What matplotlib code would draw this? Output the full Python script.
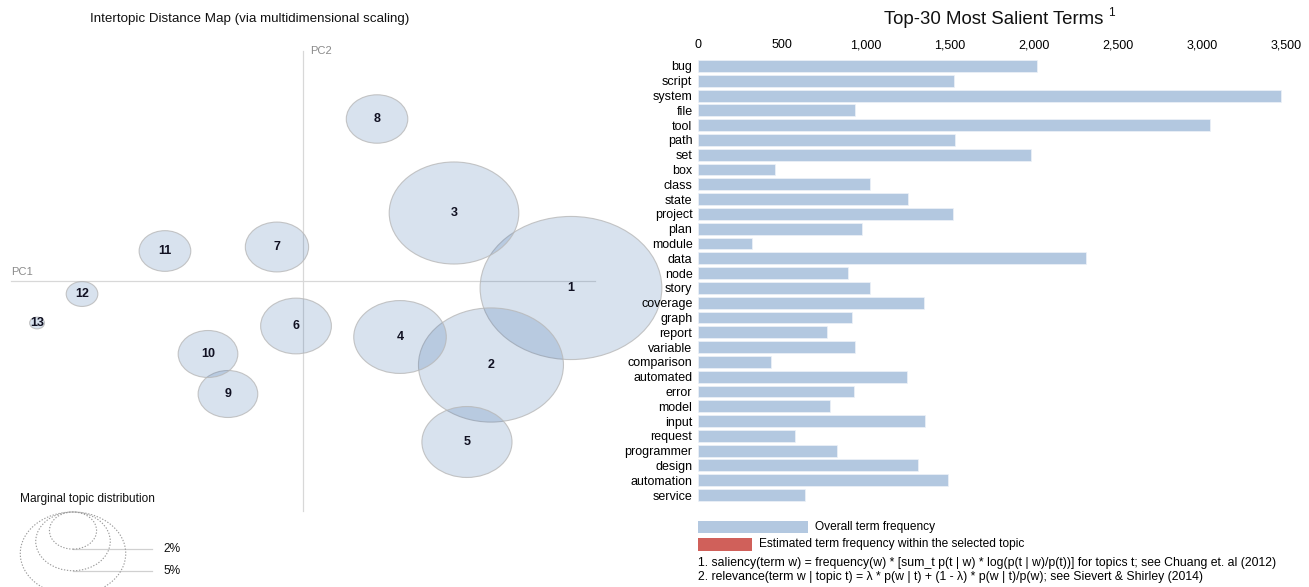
import numpy as np
import matplotlib
matplotlib.use("Agg")
import matplotlib.pyplot as plt
from matplotlib.patches import Circle, Rectangle

plt.rcParams['font.family'] = ['Liberation Sans', 'DejaVu Sans']

# Topic centres on the first two principal coordinates and their marginal share (%)
topic_ids = list(range(1, 14))
pc1 = [0.2110, 0.1480, 0.1189, 0.0764, 0.1291, -0.0055, -0.0205,
       0.0583, -0.0591, -0.0748, -0.1087, -0.1740, -0.2094]
pc2 = [-0.007, -0.084, 0.068, -0.056, -0.161, -0.045, 0.034,
       0.162, -0.113, -0.073, 0.030, -0.013, -0.042]
topic_share = [29.7, 18.9, 15.1, 7.7, 7.3, 4.5, 3.6, 3.4, 3.2, 3.2, 2.4, 0.9, 0.2]
legend_shares = [2, 5, 10]

# Most salient terms and their overall corpus frequency
terms = ["bug", "script", "system", "file", "tool", "path", "set", "box", "class",
         "state", "project", "plan", "module", "data", "node", "story", "coverage",
         "graph", "report", "variable", "comparison", "automated", "error", "model",
         "input", "request", "programmer", "design", "automation", "service"]
term_freq = [2020, 1525, 3470, 935, 3050, 1530, 1980, 460, 1025,
             1250, 1520, 977, 320, 2310, 895, 1025, 1345,
             918, 770, 935, 435, 1245, 930, 787,
             1352, 578, 828, 1311, 1490, 638]
freq_ticks = [0, 500, 1000, 1500, 2000, 2500, 3000, 3500]

W, H = 1309, 587
fig = plt.figure(figsize=(W / 100, H / 100), dpi=100)


def fx(px):
    return px / W


def fy(py):
    return 1 - py / H


# ---- Intertopic distance map ----
ax = fig.add_axes([0, 0, 680 / W, 1])
ax.set_xlim(-303 / 1270, 377 / 1270)
ax.set_ylim(-306 / 1000, 281 / 1000)
ax.axis("off")

radius_scale = 0.01313
axis_extent = 0.23
ax.plot([-axis_extent, axis_extent], [0, 0], color="#d8d8d8", lw=0.9, zorder=1)
ax.plot([0, 0], [-axis_extent, axis_extent], color="#d8d8d8", lw=0.9, zorder=1)
ax.text(-axis_extent, 0.004, "PC1", ha="left", va="bottom", fontsize=8, color="#8a8a8a")
ax.text(0.006, axis_extent, "PC2", ha="left", va="center", fontsize=8, color="#8a8a8a")

for tid, x, y, s in zip(topic_ids, pc1, pc2, topic_share):
    r = radius_scale * np.sqrt(s)
    ax.add_patch(Circle((x, y), r, facecolor=(40 / 255, 95 / 255, 165 / 255, 0.18),
                        edgecolor=(0.72, 0.72, 0.72, 0.8), lw=0.8, zorder=2))
    ax.text(x, y, str(tid), ha="center", va="center", fontsize=9,
            fontweight="bold", color="#111122", zorder=3)

# marginal-distribution size legend
leg_x, leg_top = -0.1811, -0.231
ymin = ax.get_ylim()[0]
ax.text(-0.2228, -0.218, "Marginal topic distribution", ha="left", va="center",
        fontsize=8.6, color="#111111")
for s in legend_shares:
    r = radius_scale * np.sqrt(s)
    ax.add_patch(Circle((leg_x, leg_top - r), r, fill=False, edgecolor="#9a9a9a",
                        lw=0.8, ls=(0, (1.2, 1.5)), zorder=2))
    yb = leg_top - 2 * r
    if yb > ymin + 0.008:
        ax.plot([leg_x, -0.1189], [yb, yb], color="#d0d0d0", lw=0.9, zorder=1)
        ax.text(-0.1102, yb, f"{s}%", ha="left", va="center", fontsize=8.6,
                color="#111111")

# ---- Salient-terms bar chart ----
bx = fig.add_axes([fx(698), fy(502.4), 588 / W, 443.8 / H])
ypos = np.arange(len(terms))
bx.barh(ypos, term_freq, height=0.8, color="#b3c8e0", edgecolor="#eef2f8", lw=0.5)
bx.set_xlim(0, 3500)
bx.set_ylim(len(terms) - 0.5, -0.5)
bx.set_yticks(ypos)
bx.set_yticklabels(terms, fontsize=9)
bx.set_xticks(freq_ticks)
bx.set_xticklabels([f"{t:,}" for t in freq_ticks], fontsize=9)
bx.xaxis.tick_top()
bx.tick_params(axis="x", length=0, pad=5.2)
bx.tick_params(axis="y", length=0, pad=4)
for sp in bx.spines.values():
    sp.set_visible(False)
bx.patch.set_alpha(0)

# ---- Titles ----
fig.text(fx(250), fy(19), "Intertopic Distance Map (via multidimensional scaling)",
         ha="center", va="center", fontsize=9.6, color="#111111")
fig.text(fx(994), fy(19), "Top-30 Most Salient Terms", ha="center", va="center",
         fontsize=13.4, color="#111111")
fig.text(fx(1108), fy(13), "1", ha="left", va="center", fontsize=8.5, color="#111111")

# ---- Bar legend and footnotes ----
fig.add_artist(Rectangle((fx(698), fy(533)), 110 / W, 12 / H, transform=fig.transFigure,
                         facecolor="#b3c8e0", edgecolor="none"))
fig.text(fx(815), fy(527), "Overall term frequency", ha="left", va="center", fontsize=8.6)
fig.add_artist(Rectangle((fx(698), fy(551)), 54 / W, 13 / H, transform=fig.transFigure,
                         facecolor="#d0605a", edgecolor="none"))
fig.text(fx(759), fy(544.5), "Estimated term frequency within the selected topic",
         ha="left", va="center", fontsize=8.6)
fig.text(fx(698), fy(563),
         "1. saliency(term w) = frequency(w) * [sum_t p(t | w) * log(p(t | w)/p(t))] "
         "for topics t; see Chuang et. al (2012)", ha="left", va="center", fontsize=8.8)
fig.text(fx(698), fy(577),
         "2. relevance(term w | topic t) = \u03bb * p(w | t) + (1 - \u03bb) * p(w | t)/p(w); "
         "see Sievert & Shirley (2014)", ha="left", va="center", fontsize=8.8)

fig.savefig("out.png", dpi=100, facecolor="white")
